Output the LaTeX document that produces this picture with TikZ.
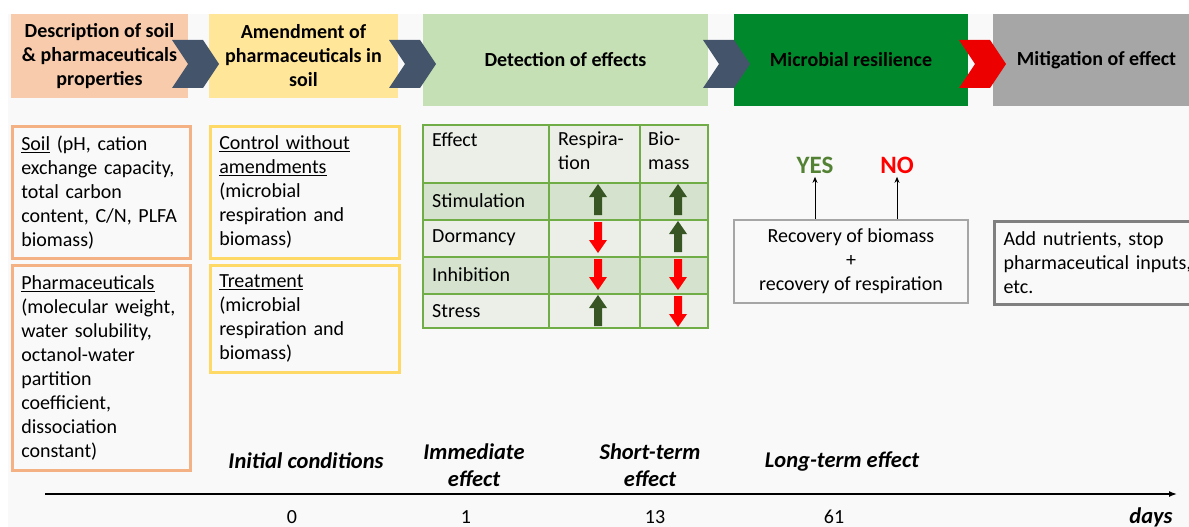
\documentclass[tikz,border=0pt]{standalone}
\usepackage{fontspec}
\setmainfont{Carlito}
\usetikzlibrary{arrows.meta}
\definecolor{salmon}{HTML}{F8CBAD}
\definecolor{salmonline}{HTML}{F4B183}
\definecolor{sand}{HTML}{FFE699}
\definecolor{sandline}{HTML}{FFD966}
\definecolor{sage}{HTML}{C5E0B4}
\definecolor{forest}{HTML}{00892C}
\definecolor{stone}{HTML}{A6A6A6}
\definecolor{slate}{HTML}{44546A}
\definecolor{tabline}{HTML}{70AD47}
\definecolor{rowdark}{HTML}{D5E3CE}
\definecolor{rowlight}{HTML}{EBEFE8}
\definecolor{updark}{HTML}{375623}
\definecolor{yesgreen}{HTML}{548235}
\definecolor{paper}{HTML}{F9F9F9}
\newcommand{\txt}{\fontsize{20}{24}\selectfont}
\newcommand{\chev}[2]{\fill[#2] (#1,40) -- ++(31,0) -- ++(16,24) -- ++(-16,24) -- ++(-31,0) -- ++(16,-24) -- cycle;}
\newcommand{\uparr}[2]{\fill[updark] (#1-4,#2+15) -- (#1-4,#2-3) -- (#1-9,#2-3) -- (#1,#2-16) -- (#1+9,#2-3) -- (#1+4,#2-3) -- (#1+4,#2+15) -- cycle;}
\newcommand{\dnarr}[2]{\fill[red] (#1-4,#2-15) -- (#1-4,#2+3) -- (#1-9,#2+3) -- (#1,#2+16) -- (#1+9,#2+3) -- (#1+4,#2+3) -- (#1+4,#2-15) -- cycle;}

\begin{document}
\begin{tikzpicture}[x=1pt,y=-1pt,
   head/.style={font=\bfseries\txt,align=center,inner sep=0pt},
   info/.style={draw,line width=2.5pt,font=\txt,align=left,inner xsep=9pt,anchor=north west},
   cell/.style={font=\txt,align=left,anchor=west,inner sep=0pt},
   phase/.style={font=\bfseries\itshape\fontsize{22.5}{27}\selectfont,align=center}]
   \useasboundingbox (0,0) rectangle (1189,527);
   \fill[paper] (8,14) rectangle (1189,527);
   % top row
   \node[head,fill=salmon,minimum width=177,minimum height=83] (desc) at (99.5,56) {Description of soil\\ \& pharmaceuticals\\ properties};
   \node[head,fill=sand,minimum width=189,minimum height=83] (amend) at (303.5,56) {Amendment of\\ pharmaceuticals in\\ soil};
   \node[head,fill=sage,minimum width=285,minimum height=92] (detect) at (565.5,60) {Detection of effects};
   \node[head,fill=forest,minimum width=234,minimum height=92] (resil) at (851,60) {Microbial resilience};
   \node[head,fill=stone,minimum width=207,minimum height=92] (mitig) at (1096.5,60) {Mitigation of effect};
   \chev{172}{slate}
   \chev{389}{slate}
   \chev{703}{slate}
   \chev{959}{red!93!black}
   % initial conditions
   \node[info,draw=salmonline,text width=160,minimum height=132] (soil) at (11,125)
      {\underline{Soil} (pH, cation\\ exchange capacity,\\ total carbon\\ content, C/N, PLFA\\ biomass)};
   \node[info,draw=salmonline,text width=160,minimum height=205] (pharm) at (11,264)
      {\underline{Pharmaceuticals}\\ (molecular weight,\\ water solubility,\\ octanol-water\\ partition\\ coefficient,\\ dissociation\\ constant)};
   \node[info,draw=sandline,text width=171,minimum height=132] (ctrl) at (209,125)
      {\underline{Control without}\\ \underline{amendments}\\ (microbial\\ respiration and\\ biomass)};
   \node[info,draw=sandline,text width=171,minimum height=107] (treat) at (209,264)
      {\underline{Treatment}\\ (microbial\\ respiration and\\ biomass)};
   % table of effects
   \fill[rowlight] (423,125) rectangle (708,328);
   \fill[rowdark] (423,183) rectangle (708,220);
   \fill[rowdark] (423,257) rectangle (708,294);
   \draw[tabline,line width=1.5pt] (423,125) rectangle (708,328);
   \foreach \y in {183,220,257,294} \draw[tabline,line width=1.5pt] (423,\y) -- (708,\y);
   \foreach \x in {549,640} \draw[tabline,line width=1.5pt] (\x,125) -- (\x,328);
   \node[cell,anchor=north west] (eff) at (432,132) {Effect};
   \node[cell,anchor=north west] (resp) at (558,132) {Respira-\\tion};
   \node[cell,anchor=north west] (bio) at (648,132) {Bio-\\mass};
   \node[cell] (stim) at (432,201) {Stimulation};
   \node[cell] (dorm) at (432,238) {Dormancy};
   \node[cell] (inhib) at (432,275) {Inhibition};
   \node[cell] (stress) at (432,311) {Stress};
   \uparr{598}{200}
   \uparr{678}{200}
   \dnarr{598}{237}
   \uparr{678}{237}
   \dnarr{598}{274}
   \dnarr{678}{274}
   \uparr{598}{311}
   \dnarr{678}{311}
   % resilience and mitigation
   \node[draw=stone,line width=2pt,font=\txt,align=center,minimum width=234,minimum height=83] (rec) at (851,261.5)
      {Recovery of biomass\\ +\\ recovery of respiration};
   \node[font=\bfseries\fontsize{25}{28}\selectfont,text=yesgreen] (yes) at (815,165) {YES};
   \node[font=\bfseries\fontsize{25}{28}\selectfont,text=red] (no) at (897,165) {NO};
   \draw[line width=1pt,-{Stealth[length=6pt,width=5pt]}] (rec.north -| yes) -- (yes.south);
   \draw[line width=1pt,-{Stealth[length=6pt,width=5pt]}] (rec.north -| no) -- (no.south);
   \node[info,draw=gray,line width=3pt,text width=189,minimum height=83] (mit) at (993,220)
      {Add nutrients, stop\\ pharmaceutical inputs,\\ etc.};
   % time axis
   \coordinate (t0) at (45,494);
   \coordinate (t1) at (1177,494);
   \draw[line width=1.5pt,-{Latex[length=8pt,width=6pt]}] (t0) -- (t1);
   \node[phase] (init) at (306,461) {Initial conditions};
   \node[phase] (imm) at (474,465) {Immediate\\ effect};
   \node[phase] (short) at (650,465) {Short-term\\ effect};
   \node[phase] (long) at (842,461) {Long-term effect};
   \node[font=\txt] (d0) at (292,517) {0};
   \node[font=\txt] (d1) at (466,517) {1};
   \node[font=\txt] (d13) at (655,517) {13};
   \node[font=\txt] (d61) at (834,517) {61};
   \node[phase] (days) at (1151,517) {days};
\end{tikzpicture}
\end{document}
